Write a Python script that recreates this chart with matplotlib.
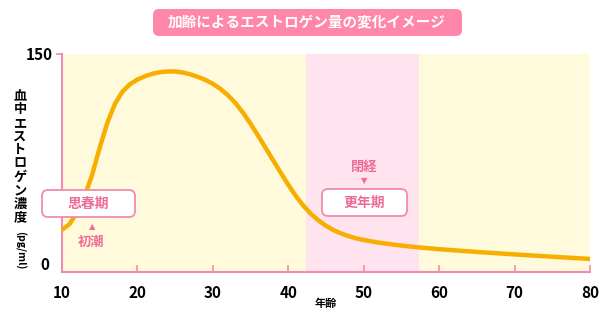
import matplotlib
matplotlib.use("Agg")
import matplotlib.pyplot as plt
from matplotlib.patches import FancyBboxPatch
from matplotlib.transforms import Affine2D

plt.rcParams['font.family'] = ['Noto Sans CJK JP', 'DejaVu Sans']

# data
ages = [10, 11, 12, 13, 14, 15, 16, 17, 18, 19, 20, 21, 22, 23, 24, 25, 26,
        27, 28, 29, 30, 31, 32, 33, 34, 35, 36, 37, 38, 39, 40, 41, 42, 43,
        44, 45, 46, 47, 48, 49, 50, 52, 54, 56, 58, 60, 65, 70, 75, 80]
estrogen = [29, 33, 41, 52, 67, 85.5, 102.5, 115.5, 124, 129.2, 132.4, 134.7,
            136.4, 137.5, 138, 138, 137.3, 136, 134.3, 132.2, 129.5, 126,
            121.6, 116.2, 109.6, 102, 93.8, 85.3, 76.8, 68.3, 60, 52.3, 45.6,
            40, 35.5, 31.8, 28.8, 26.5, 24.7, 23.2, 22, 20.2, 18.8, 17.6,
            16.6, 15.7, 13.8, 12.1, 10.5, 9]
menopause_start, menopause_end = 42.3, 57.3
xticks = [10, 20, 30, 40, 50, 60, 70, 80]

title = '加齢によるエストロゲン量の変化イメージ'
ylabel = '血中エストロゲン濃度'
yunit = '(pg/ml)'

pink = '#f08cae'
pink_text = '#ec6e98'
curve = '#f7ae00'

W, H = 611, 309
fig = plt.figure(figsize=(W / 100, H / 100), dpi=100)
fig.patch.set_facecolor('white')
ax = fig.add_axes([62 / W, 1 - 272 / H, (590 - 62) / W, (272 - 54) / H])

# pixel coords from top-left corner
px = Affine2D().scale(1 / W, -1 / H).translate(0, 1) + fig.transFigure

ax.set_facecolor('#fffadc')
ax.axvspan(menopause_start, menopause_end, color='#ffe3ef', lw=0, zorder=0)
ax.plot(ages, estrogen, color=curve, lw=3.2, solid_capstyle='round',
        solid_joinstyle='round', zorder=3)

ax.set_xlim(10, 80)
ax.set_ylim(0, 150)
ax.set_xticks(xticks)
ax.set_xticklabels([str(t) for t in xticks], fontsize=11, fontweight='bold')
ax.set_yticks([150])
ax.set_yticklabels(['150'], fontsize=11, fontweight='bold')
ax.tick_params(axis='x', direction='in', length=5, color=pink, width=1.2, pad=9)
ax.tick_params(axis='y', direction='out', length=4, color=pink, width=1.2, pad=3)
for s in ['top', 'right']:
    ax.spines[s].set_visible(False)
for s in ['left', 'bottom']:
    ax.spines[s].set_color(pink)
    ax.spines[s].set_linewidth(1.5)

fig.text(45, 265, '0', transform=px, fontsize=11, fontweight='bold',
         ha='center', va='center')
fig.text(326, 303, '年齢', transform=px, fontsize=8, fontweight='bold',
         ha='center', va='center')

# vertical y label
for i, ch in enumerate(ylabel):
    fig.text(20, 96 + i * 13.5, ch, transform=px, fontsize=9.5,
             fontweight='bold', ha='center', va='center')
fig.text(20, 250, yunit, transform=px, fontsize=7.5, fontweight='bold',
         rotation=-90, ha='center', va='center')

# title
fig.patches.append(FancyBboxPatch((153, 9), 309, 27, transform=px,
                                  boxstyle='round,pad=0,rounding_size=6',
                                  fc='#ff88aa', ec='none'))
fig.text(307, 22, title, transform=px, fontsize=10.5, fontweight='bold',
         color='white', ha='center', va='center')

# annotation boxes
for (x0, y0, w, h, label) in [(42, 190, 93, 27, '思春期'), (322, 189, 85, 27, '更年期')]:
    fig.patches.append(FancyBboxPatch((x0, y0), w, h, transform=px,
                                      boxstyle='round,pad=0,rounding_size=6',
                                      fc='white', ec=pink, lw=1.3, zorder=5))
    fig.text(x0 + w / 2, y0 + h / 2, label, transform=px, fontsize=10,
             fontweight='bold', color=pink_text, ha='center', va='center', zorder=6)

fig.text(92, 227, '▲', transform=px, fontsize=6, color=pink_text,
         ha='center', va='center', family='DejaVu Sans')
fig.text(91, 242, '初潮', transform=px, fontsize=9.5, fontweight='bold',
         color=pink_text, ha='center', va='center')
fig.text(364, 167, '閉経', transform=px, fontsize=9.5, fontweight='bold',
         color=pink_text, ha='center', va='center')
fig.text(364, 181, '▼', transform=px, fontsize=6, color=pink_text,
         ha='center', va='center', family='DejaVu Sans')

fig.savefig('out.png', dpi=100)
